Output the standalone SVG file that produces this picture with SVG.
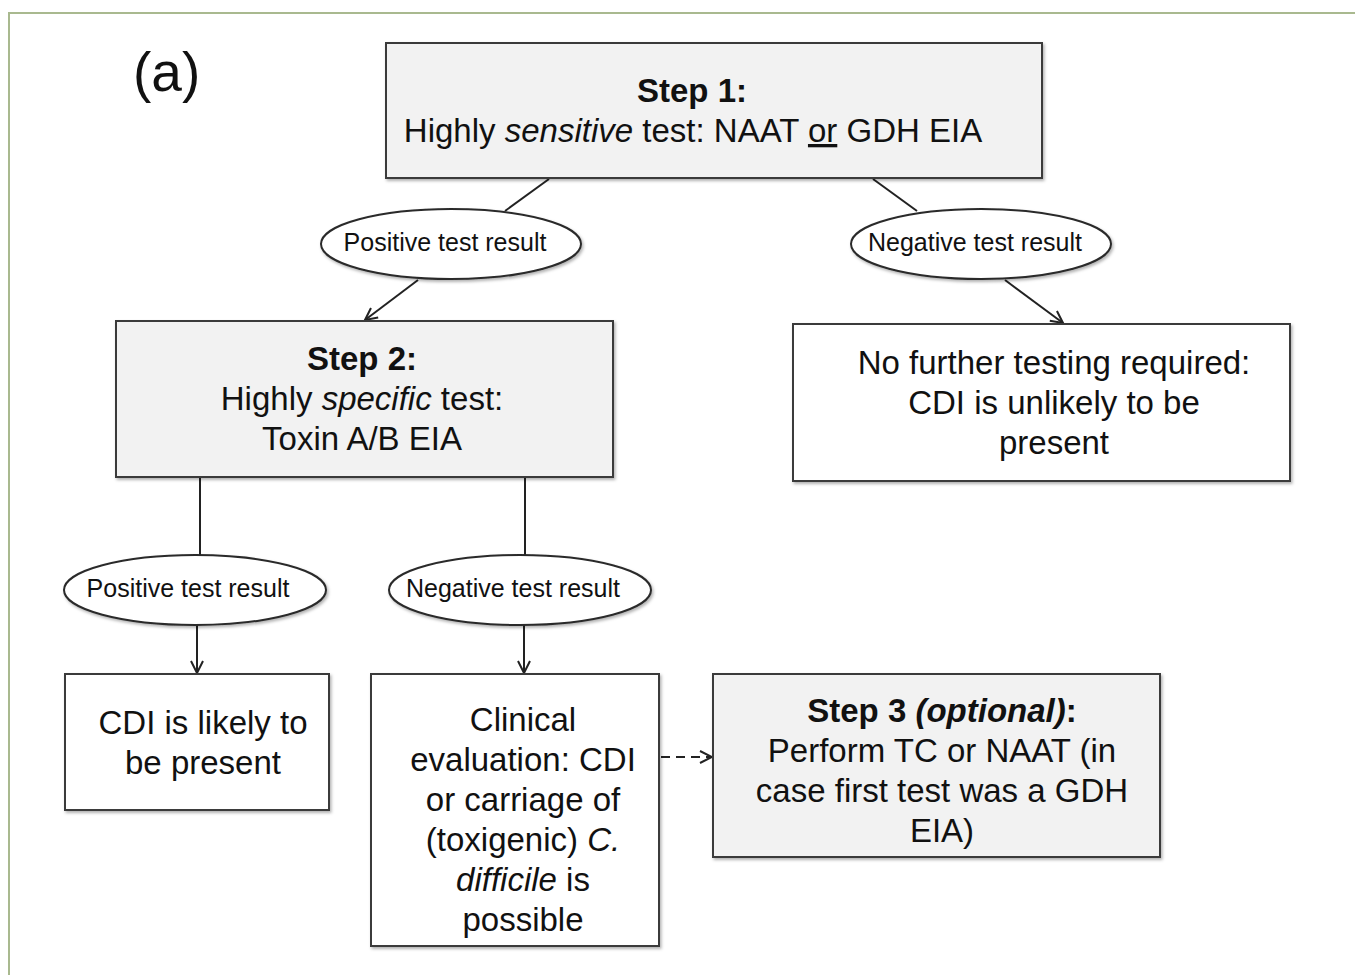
<svg xmlns="http://www.w3.org/2000/svg" width="1355" height="975" viewBox="0 0 1355 975">
<style>
.box{stroke:#3a3a3a;stroke-width:2;filter:url(#sh)}
.grey{fill:#f2f2f2}
.white{fill:#ffffff}
.ell{fill:#ffffff;stroke:#2a2a2a;stroke-width:2;filter:url(#sh)}
.t{font-family:"Liberation Sans",Arial,sans-serif;font-size:33px;fill:#111;text-anchor:middle}
.lab{font-family:"Liberation Sans",Arial,sans-serif;font-size:25px;fill:#111;text-anchor:middle}
.b{font-weight:bold}
.i{font-style:italic}
.con{stroke:#222;stroke-width:2;fill:none}
</style>
<defs>
<filter id="sh" x="-10%" y="-10%" width="120%" height="130%">
<feDropShadow dx="1.5" dy="2" stdDeviation="1.5" flood-color="#000" flood-opacity="0.3"/>
</filter>
<marker id="arr" viewBox="0 0 14 14" refX="13" refY="7" markerWidth="14" markerHeight="14" markerUnits="userSpaceOnUse" orient="auto">
<path d="M1,1 L13,7 L1,13" fill="none" stroke="#222" stroke-width="2"/>
</marker>
</defs>
<rect width="1355" height="975" fill="#ffffff"/>
<path d="M9,975 L9,13 L1355,13" fill="none" stroke="#a9b98f" stroke-width="2"/>
<text x="133" y="91" font-family="Liberation Sans,Arial,sans-serif" font-size="55" fill="#111">(a)</text>

<g id="connectors">
<line class="con" x1="549" y1="179" x2="505" y2="211"/>
<line class="con" x1="873" y1="179" x2="917" y2="211"/>
<line class="con" x1="418" y1="280" x2="365" y2="320" marker-end="url(#arr)"/>
<line class="con" x1="1005" y1="280" x2="1063" y2="323" marker-end="url(#arr)"/>
<line class="con" x1="200" y1="478" x2="200" y2="556"/>
<line class="con" x1="525" y1="478" x2="525" y2="556"/>
<line class="con" x1="197" y1="625" x2="197" y2="673" marker-end="url(#arr)"/>
<line class="con" x1="524" y1="625" x2="524" y2="673" marker-end="url(#arr)"/>
<line class="con" x1="661" y1="757" x2="712" y2="757" stroke-dasharray="9,6" marker-end="url(#arr)"/>
</g>

<g id="step1">
<rect class="box grey" x="386" y="43" width="656" height="135"/>
<text class="t b" x="692" y="102">Step 1:</text>
<text class="t" x="693" y="142">Highly <tspan class="i">sensitive</tspan> test: NAAT <tspan text-decoration="underline">or</tspan> GDH EIA</text>
</g>

<g id="pos1">
<ellipse class="ell" cx="451" cy="244" rx="130" ry="35"/>
<text class="lab" x="445" y="251">Positive test result</text>
</g>

<g id="neg1">
<ellipse class="ell" cx="981" cy="244" rx="130" ry="35"/>
<text class="lab" x="975" y="251">Negative test result</text>
</g>

<g id="step2">
<rect class="box grey" x="116" y="321" width="497" height="156"/>
<text class="t b" x="362" y="370">Step 2:</text>
<text class="t" x="362" y="410">Highly <tspan class="i">specific</tspan> test:</text>
<text class="t" x="362" y="450">Toxin A/B EIA</text>
</g>

<g id="nofurther">
<rect class="box white" x="793" y="324" width="497" height="157"/>
<text class="t" x="1054" y="374">No further testing required:</text>
<text class="t" x="1054" y="414">CDI is unlikely to be</text>
<text class="t" x="1054" y="454">present</text>
</g>

<g id="pos2">
<ellipse class="ell" cx="195" cy="590" rx="131" ry="35"/>
<text class="lab" x="188" y="597">Positive test result</text>
</g>

<g id="neg2">
<ellipse class="ell" cx="520" cy="590" rx="131" ry="35"/>
<text class="lab" x="513" y="597">Negative test result</text>
</g>

<g id="likely">
<rect class="box white" x="65" y="674" width="264" height="136"/>
<text class="t" x="203" y="734">CDI is likely to</text>
<text class="t" x="203" y="774">be present</text>
</g>

<g id="clinical">
<rect class="box white" x="371" y="674" width="288" height="272"/>
<text class="t" x="523" y="731">Clinical</text>
<text class="t" x="523" y="771">evaluation: CDI</text>
<text class="t" x="523" y="811">or carriage of</text>
<text class="t" x="523" y="851">(toxigenic) <tspan class="i">C.</tspan></text>
<text class="t" x="523" y="891"><tspan class="i">difficile</tspan> is</text>
<text class="t" x="523" y="931">possible</text>
</g>

<g id="step3">
<rect class="box grey" x="713" y="674" width="447" height="183"/>
<text class="t" x="942" y="722"><tspan class="b">Step 3 </tspan><tspan class="b i">(optional)</tspan><tspan class="b">:</tspan></text>
<text class="t" x="942" y="762">Perform TC or NAAT (in</text>
<text class="t" x="942" y="802">case first test was a GDH</text>
<text class="t" x="942" y="842">EIA)</text>
</g>
</svg>
